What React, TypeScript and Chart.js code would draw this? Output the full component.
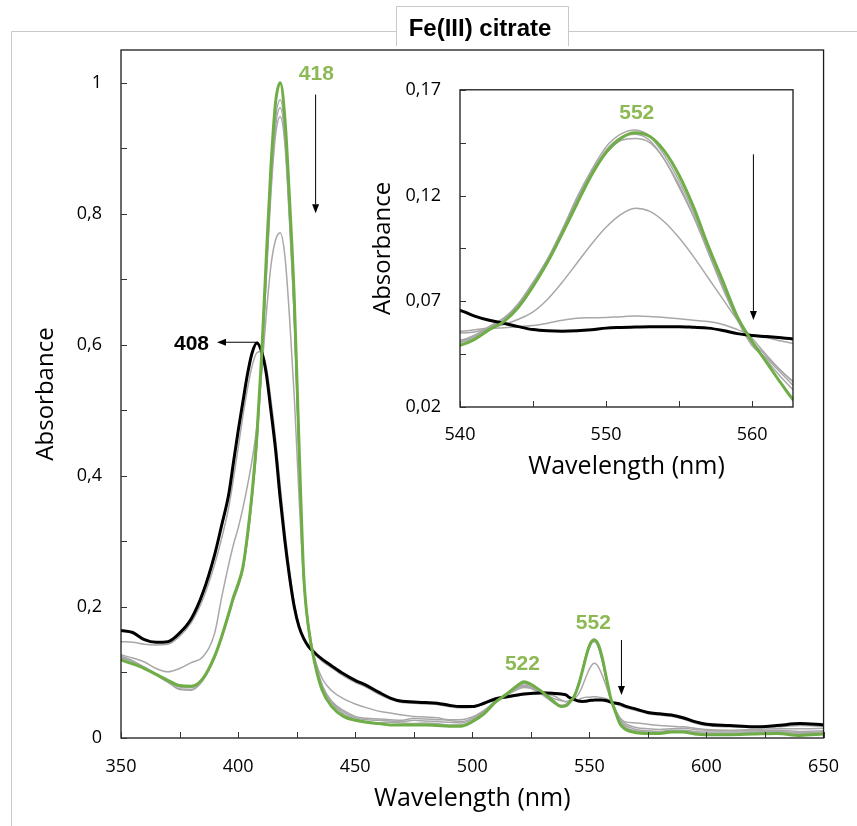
import React, { useEffect, useRef } from 'react';
import { Chart, registerables } from 'chart.js';

Chart.register(...registerables);

// ---------- data ----------
const wavelengths = [
  350, 355, 360, 365, 370, 375, 380, 385, 390, 393, 396, 398,
  400, 402, 404, 406, 408, 410, 412, 414, 416, 418, 420, 422, 424, 426, 428, 430,
  433, 436, 440, 445, 450, 455, 460, 465, 470, 475, 480, 485, 490, 495, 500, 505, 510, 515, 520, 522, 525, 530, 535, 538,
  540, 541, 542, 543, 544, 545, 546, 547, 548, 549, 550, 551, 552, 553, 554, 555, 556, 557, 558, 559, 560, 561, 562, 563,
  565, 570, 575, 580, 585, 590, 595, 600, 610, 620, 630, 640, 650,
];

const blackSpectrum = [
  0.164, 0.161, 0.150, 0.146, 0.147, 0.160, 0.182, 0.222, 0.280, 0.325, 0.372, 0.420,
  0.468, 0.512, 0.555, 0.588, 0.603, 0.590, 0.557, 0.500, 0.440, 0.365, 0.300, 0.245, 0.200, 0.170, 0.152, 0.140,
  0.129, 0.120, 0.110, 0.098, 0.088, 0.080, 0.070, 0.061, 0.056, 0.055, 0.054, 0.053, 0.050, 0.048, 0.048, 0.053, 0.060, 0.063, 0.066, 0.067, 0.068, 0.069, 0.068, 0.067,
  0.0657, 0.063, 0.061, 0.0596, 0.058, 0.0566, 0.056, 0.0558, 0.056, 0.0565, 0.0573, 0.0576, 0.0578, 0.058, 0.058, 0.058, 0.0577, 0.0573, 0.0562, 0.0547, 0.0538, 0.0533, 0.0527, 0.052,
  0.049, 0.044, 0.039, 0.037, 0.035, 0.031, 0.025, 0.021, 0.019, 0.017, 0.019, 0.022, 0.020,
];

const greenSpectrum = [
  0.119, 0.113, 0.106, 0.097, 0.088, 0.080, 0.079, 0.091, 0.125, 0.155, 0.190, 0.215,
  0.235, 0.260, 0.310, 0.375, 0.460, 0.580, 0.730, 0.870, 0.970, 1.000, 0.945, 0.820, 0.670, 0.450, 0.250, 0.170,
  0.110, 0.072, 0.048, 0.033, 0.027, 0.024, 0.022, 0.020, 0.020, 0.020, 0.020, 0.019, 0.018, 0.018, 0.025, 0.037, 0.055, 0.068, 0.082, 0.086, 0.082, 0.070, 0.055, 0.048,
  0.0492, 0.052, 0.0566, 0.0604, 0.0672, 0.077, 0.0885, 0.102, 0.116, 0.1296, 0.1403, 0.147, 0.1497, 0.1479, 0.141, 0.1296, 0.1144, 0.0961, 0.0794, 0.0625, 0.051, 0.041, 0.031, 0.022,
  0.014, 0.008, 0.007, 0.007, 0.009, 0.009, 0.006, 0.005, 0.005, 0.006, 0.007, 0.004, 0.006,
];

const grayNearBlack = [
  0.147, 0.146, 0.143, 0.142, 0.143, 0.155, 0.176, 0.212, 0.265, 0.305, 0.352, 0.395,
  0.442, 0.490, 0.533, 0.568, 0.588, 0.590, 0.567, 0.517, 0.457, 0.385, 0.315, 0.255, 0.205, 0.172, 0.152, 0.139,
  0.127, 0.117, 0.107, 0.095, 0.085, 0.077, 0.067, 0.059, 0.054, 0.053, 0.052, 0.051, 0.048, 0.046, 0.047, 0.052, 0.058, 0.062, 0.065, 0.066, 0.067, 0.067, 0.064, 0.058,
  0.055, 0.0555, 0.057, 0.0575, 0.058, 0.0585, 0.0596, 0.061, 0.062, 0.0622, 0.0623, 0.0627, 0.063, 0.0628, 0.0623, 0.0617, 0.061, 0.0604, 0.059, 0.0566, 0.054, 0.0527, 0.0512, 0.0497,
  0.047, 0.042, 0.037, 0.035, 0.033, 0.029, 0.023, 0.019, 0.017, 0.016, 0.017, 0.019, 0.018,
];

const grayMid = [
  0.127, 0.122, 0.116, 0.106, 0.101, 0.106, 0.115, 0.124, 0.160, 0.215, 0.265, 0.295,
  0.320, 0.350, 0.385, 0.425, 0.475, 0.555, 0.645, 0.720, 0.760, 0.771, 0.735, 0.640, 0.520, 0.370, 0.240, 0.165,
  0.118, 0.090, 0.072, 0.060, 0.052, 0.046, 0.041, 0.038, 0.035, 0.033, 0.032, 0.031, 0.028, 0.028, 0.032, 0.042, 0.056, 0.066, 0.075, 0.077, 0.076, 0.068, 0.060, 0.057,
  0.0558, 0.0565, 0.0575, 0.059, 0.0615, 0.065, 0.071, 0.079, 0.088, 0.097, 0.105, 0.111, 0.114, 0.1125, 0.1075, 0.100, 0.091, 0.081, 0.071, 0.061, 0.0525, 0.0445, 0.037, 0.031,
  0.025, 0.023, 0.021, 0.019, 0.018, 0.017, 0.015, 0.013, 0.012, 0.013, 0.014, 0.014, 0.015,
];

const grayNearGreen1 = [
  0.125, 0.118, 0.108, 0.097, 0.087, 0.078, 0.077, 0.090, 0.124, 0.154, 0.189, 0.214,
  0.234, 0.259, 0.308, 0.372, 0.455, 0.570, 0.715, 0.850, 0.945, 0.974, 0.925, 0.800, 0.650, 0.440, 0.250, 0.175,
  0.117, 0.080, 0.055, 0.040, 0.031, 0.028, 0.027, 0.026, 0.025, 0.027, 0.026, 0.025, 0.024, 0.023, 0.028, 0.040, 0.057, 0.068, 0.079, 0.083, 0.080, 0.068, 0.054, 0.049,
  0.051, 0.0535, 0.058, 0.062, 0.069, 0.079, 0.090, 0.104, 0.119, 0.132, 0.143, 0.149, 0.151, 0.148, 0.139, 0.127, 0.112, 0.094, 0.077, 0.062, 0.050, 0.042, 0.034, 0.027,
  0.020, 0.013, 0.011, 0.010, 0.012, 0.012, 0.010, 0.009, 0.009, 0.009, 0.010, 0.008, 0.009,
];

const grayNearGreen2 = [
  0.122, 0.116, 0.107, 0.096, 0.085, 0.075, 0.074, 0.089, 0.123, 0.153, 0.188, 0.212,
  0.232, 0.257, 0.305, 0.368, 0.450, 0.565, 0.705, 0.840, 0.933, 0.962, 0.915, 0.790, 0.640, 0.430, 0.245, 0.170,
  0.113, 0.077, 0.053, 0.037, 0.029, 0.025, 0.023, 0.024, 0.023, 0.022, 0.023, 0.022, 0.020, 0.020, 0.025, 0.038, 0.056, 0.067, 0.078, 0.081, 0.078, 0.067, 0.053, 0.048,
  0.0505, 0.053, 0.0575, 0.0615, 0.0685, 0.0785, 0.090, 0.1035, 0.118, 0.131, 0.1415, 0.1475, 0.149, 0.146, 0.137, 0.125, 0.110, 0.093, 0.076, 0.061, 0.049, 0.043, 0.036, 0.029,
  0.018, 0.011, 0.009, 0.009, 0.011, 0.011, 0.008, 0.007, 0.007, 0.008, 0.009, 0.007, 0.008,
];

const grayNearGreen3 = [
  0.124, 0.117, 0.108, 0.098, 0.086, 0.074, 0.073, 0.088, 0.122, 0.152, 0.186, 0.210,
  0.230, 0.255, 0.302, 0.365, 0.445, 0.560, 0.700, 0.830, 0.920, 0.948, 0.905, 0.785, 0.640, 0.435, 0.250, 0.172,
  0.115, 0.079, 0.056, 0.042, 0.033, 0.030, 0.029, 0.028, 0.027, 0.030, 0.029, 0.028, 0.027, 0.025, 0.030, 0.041, 0.057, 0.067, 0.077, 0.079, 0.076, 0.066, 0.053, 0.050,
  0.0515, 0.054, 0.058, 0.062, 0.068, 0.078, 0.089, 0.103, 0.1175, 0.1305, 0.140, 0.146, 0.147, 0.145, 0.137, 0.124, 0.110, 0.094, 0.077, 0.063, 0.051, 0.044, 0.037, 0.031,
  0.023, 0.016, 0.014, 0.013, 0.014, 0.015, 0.013, 0.012, 0.011, 0.011, 0.012, 0.010, 0.011,
];

// tick values
const mainXTicks = [350, 400, 450, 500, 550, 600, 650];
const mainXMinorTicks = [350, 375, 400, 425, 450, 475, 500, 525, 550, 575, 600, 625, 650];
const mainYTicks = [0, 0.2, 0.4, 0.6, 0.8, 1];
const mainYMinorTicks = [0, 0.1, 0.2, 0.3, 0.4, 0.5, 0.6, 0.7, 0.8, 0.9, 1];
const insetXTicks = [540, 550, 560];
const insetXMinorTicks = [540, 545, 550, 555, 560];
const insetYTicks = [0.02, 0.07, 0.12, 0.17];
const insetYMinorTicks = [0.02, 0.045, 0.07, 0.095, 0.12, 0.145, 0.17];

// peak annotations (data coordinates)
const mainPeakLabels = [
  { text: '418', x: 433.4, y: 1.013, green: true },
  { text: '408', x: 380.1, y: 0.6015, green: false },
  { text: '522', x: 521.4, y: 0.113, green: true },
  { text: '552', x: 551.7, y: 0.175, green: true },
];
const mainArrows = [
  { x1: 433.1, y1: 0.982, x2: 433.1, y2: 0.801 },
  { x1: 408.6, y1: 0.604, x2: 391.0, y2: 0.604 },
  { x1: 563.7, y1: 0.1496, x2: 563.7, y2: 0.0656 },
];
const insetPeakLabels = [{ text: '552', x: 552.1, y: 0.1588, green: true }];
const insetArrows = [{ x1: 560.09, y1: 0.1395, x2: 560.09, y2: 0.0612 }];

// ---------- styles ----------
const GREEN = '#6FAD46';
const GREEN_TEXT = '#8DB955';
const GRAY = '#A8A8A8';
const SANS = "'Open Sans', 'DejaVu Sans', sans-serif";
const BOLD_SANS = "'Liberation Sans', Arial, sans-serif";

const fmt = (v: number) => String(v).replace('.', ',');

function buildDatasets() {
  const mk = (label: string, ys: number[], color: string, width: number) => ({
    label,
    data: wavelengths.map((x, i) => ({ x, y: ys[i] })),
    borderColor: color,
    borderWidth: width,
    pointRadius: 0,
    fill: false,
    cubicInterpolationMode: 'monotone' as const,
    clip: 0,
  });
  // index 0 is drawn last (on top)
  return [
    mk('final', greenSpectrum, GREEN, 3),
    mk('initial', blackSpectrum, '#000000', 3),
    mk('g1', grayNearBlack, GRAY, 1.5),
    mk('g2', grayMid, GRAY, 1.5),
    mk('g3', grayNearGreen3, GRAY, 1.5),
    mk('g4', grayNearGreen2, GRAY, 1.5),
    mk('g5', grayNearGreen1, GRAY, 1.5),
  ];
}

type Ann = { text: string; x: number; y: number; green: boolean };
type Arr = { x1: number; y1: number; x2: number; y2: number };

function decorPlugin(cfg: {
  xMinor: number[];
  yMinor: number[];
  labels: Ann[];
  arrows: Arr[];
  frame?: boolean;
}) {
  return {
    id: 'decor',
    afterDatasetsDraw(chart: any) {
      const { ctx, chartArea } = chart;
      const { left, right, top, bottom } = chartArea;
      const xs = chart.scales.x;
      const ys = chart.scales.y;
      ctx.save();
      ctx.strokeStyle = '#1a1a1a';
      ctx.lineWidth = 1.3;
      ctx.strokeRect(left, top, right - left, bottom - top);
      ctx.strokeStyle = '#333';
      ctx.lineWidth = 1;
      ctx.beginPath();
      cfg.xMinor.forEach((v) => {
        const px = Math.round(xs.getPixelForValue(v)) + 0.5;
        ctx.moveTo(px, bottom);
        ctx.lineTo(px, bottom - 6);
      });
      cfg.yMinor.forEach((v) => {
        const py = Math.round(ys.getPixelForValue(v)) + 0.5;
        ctx.moveTo(left, py);
        ctx.lineTo(left + 6, py);
      });
      ctx.stroke();
      cfg.arrows.forEach((a) => {
        const x1 = xs.getPixelForValue(a.x1);
        const y1 = ys.getPixelForValue(a.y1);
        const x2 = xs.getPixelForValue(a.x2);
        const y2 = ys.getPixelForValue(a.y2);
        const ang = Math.atan2(y2 - y1, x2 - x1);
        const hl = 9;
        const hw = 3.5;
        const bx = x2 - hl * Math.cos(ang);
        const by = y2 - hl * Math.sin(ang);
        ctx.strokeStyle = '#000';
        ctx.lineWidth = 1;
        ctx.beginPath();
        ctx.moveTo(x1, y1);
        ctx.lineTo(bx, by);
        ctx.stroke();
        ctx.fillStyle = '#000';
        ctx.beginPath();
        ctx.moveTo(x2, y2);
        ctx.lineTo(bx + hw * Math.sin(ang), by - hw * Math.cos(ang));
        ctx.lineTo(bx - hw * Math.sin(ang), by + hw * Math.cos(ang));
        ctx.closePath();
        ctx.fill();
      });
      ctx.font = `bold 21px ${BOLD_SANS}`;
      ctx.textAlign = 'center';
      ctx.textBaseline = 'middle';
      cfg.labels.forEach((l) => {
        ctx.fillStyle = l.green ? GREEN_TEXT : '#000';
        ctx.fillText(l.text, xs.getPixelForValue(l.x), ys.getPixelForValue(l.y));
      });
      ctx.restore();
    },
    afterDraw(chart: any) {
      if (!cfg.frame) return;
      const { ctx, width, height } = chart;
      ctx.save();
      ctx.strokeStyle = '#C8C8C8';
      ctx.lineWidth = 1;
      ctx.beginPath();
      ctx.moveTo(11.5, height);
      ctx.lineTo(11.5, 31.5);
      ctx.lineTo(width, 31.5);
      ctx.stroke();
      ctx.fillStyle = '#fff';
      ctx.fillRect(396.5, 6.5, 172, 40);
      ctx.beginPath();
      ctx.moveTo(396.5, 46);
      ctx.lineTo(396.5, 6.5);
      ctx.lineTo(568.5, 6.5);
      ctx.lineTo(568.5, 46);
      ctx.stroke();
      ctx.fillStyle = '#000';
      ctx.font = `bold 24px ${BOLD_SANS}`;
      ctx.textAlign = 'center';
      ctx.textBaseline = 'middle';
      ctx.fillText('Fe(III) citrate', 480, 29);
      ctx.restore();
    },
  };
}

function axisOpts(o: {
  min: number;
  max: number;
  ticks: number[];
  size: number;
  isX: boolean;
  title: string;
  titleSize: number;
  labelPad: number;
  titlePad: any;
}) {
  return {
    type: 'linear' as const,
    min: o.min,
    max: o.max,
    grid: { display: false, drawTicks: false },
    border: { display: false },
    afterBuildTicks: (s: any) => {
      s.ticks = o.ticks.map((v) => ({ value: v }));
    },
    afterFit: (s: any) => {
      if (o.isX) s.height = o.size;
      else s.width = o.size;
    },
    ticks: {
      autoSkip: false,
      maxRotation: 0,
      padding: o.labelPad,
      color: '#000',
      font: { family: SANS, size: 18 },
      callback: (v: any) => fmt(Number(v)),
    },
    title: {
      display: true,
      text: o.title,
      color: '#000',
      font: { family: SANS, size: o.titleSize },
      padding: o.titlePad,
    },
  };
}

export default function App() {
  const mainRef = useRef<HTMLCanvasElement>(null);
  const insetRef = useRef<HTMLCanvasElement>(null);

  useEffect(() => {
    if (!mainRef.current || !insetRef.current) return;
    const main = new Chart(mainRef.current, {
      type: 'line',
      data: { datasets: buildDatasets() as any },
      options: {
        animation: false,
        responsive: false,
        maintainAspectRatio: false,
        events: [],
        layout: { padding: { left: 0, right: 24, top: 50, bottom: 0 } },
        plugins: { legend: { display: false }, tooltip: { enabled: false }, title: { display: false } },
        scales: {
          x: axisOpts({ min: 350, max: 650, ticks: mainXTicks, size: 88, isX: true, title: 'Wavelength (nm)', titleSize: 25, labelPad: 18, titlePad: { top: 0, bottom: 12 } }) as any,
          y: axisOpts({ min: 0, max: 1.05, ticks: mainYTicks, size: 121, isX: false, title: 'Absorbance', titleSize: 24, labelPad: 19, titlePad: { top: 31.6, bottom: 0 } }) as any,
        },
      },
      plugins: [decorPlugin({ xMinor: mainXMinorTicks, yMinor: mainYMinorTicks, labels: mainPeakLabels, arrows: mainArrows, frame: true })],
    });
    const inset = new Chart(insetRef.current, {
      type: 'line',
      data: { datasets: buildDatasets() as any },
      options: {
        animation: false,
        responsive: false,
        maintainAspectRatio: false,
        events: [],
        layout: { padding: { left: 0, right: 17, top: 18, bottom: 0 } },
        plugins: { legend: { display: false }, tooltip: { enabled: false }, title: { display: false } },
        scales: {
          x: axisOpts({ min: 540, max: 562.8, ticks: insetXTicks, size: 83, isX: true, title: 'Wavelength (nm)', titleSize: 25, labelPad: 17, titlePad: { top: 0, bottom: 8 } }) as any,
          y: axisOpts({ min: 0.02, max: 0.17, ticks: insetYTicks, size: 100, isX: false, title: 'Absorbance', titleSize: 24, labelPad: 19, titlePad: { top: 8.6, bottom: 0 } }) as any,
        },
      },
      plugins: [decorPlugin({ xMinor: insetXMinorTicks, yMinor: insetYMinorTicks, labels: insetPeakLabels, arrows: insetArrows })],
    });
    return () => {
      main.destroy();
      inset.destroy();
    };
  }, []);

  return (
    <div style={{ position: 'absolute', left: 0, top: 0, width: 857, height: 826, background: '#fff', overflow: 'hidden' }}>
      <canvas ref={mainRef} width={857} height={826} style={{ position: 'absolute', left: 0, top: 0 }} />
      <canvas ref={insetRef} width={450} height={430} style={{ position: 'absolute', left: 360, top: 60 }} />
    </div>
  );
}
